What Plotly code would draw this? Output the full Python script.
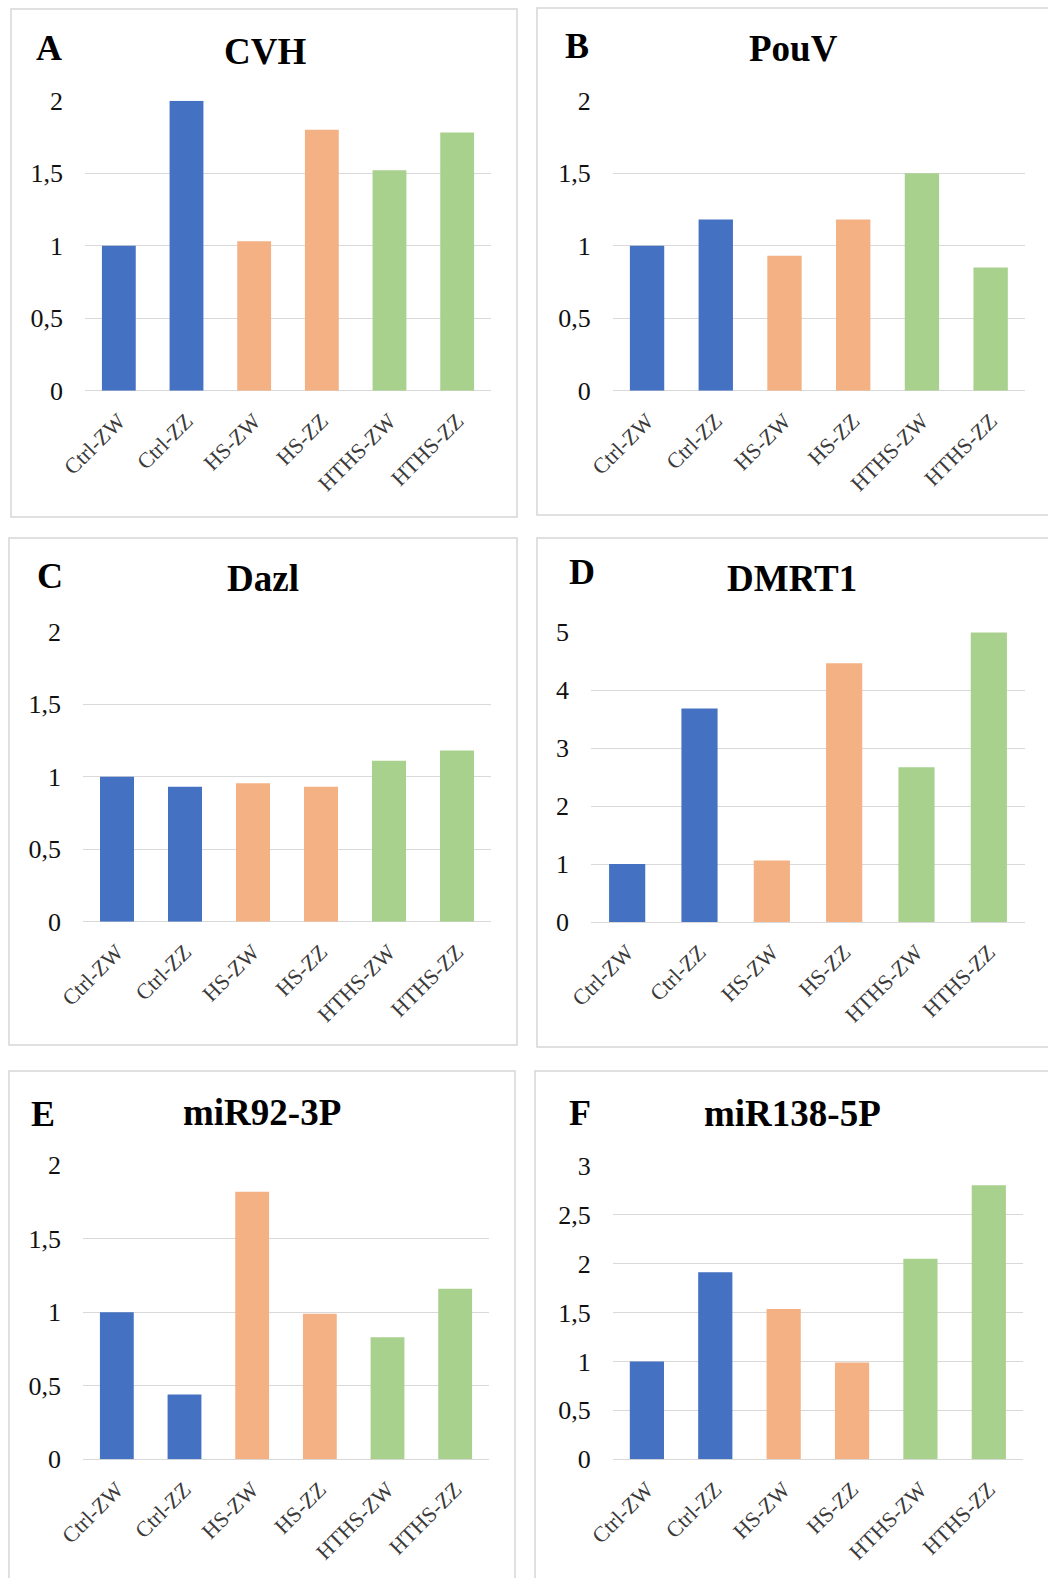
import plotly.graph_objects as go

# Relative expression per group (fold change vs Ctrl-ZW)
categories = ["Ctrl-ZW", "Ctrl-ZZ", "HS-ZW", "HS-ZZ", "HTHS-ZW", "HTHS-ZZ"]
cvh = [1.0, 2.0, 1.03, 1.80, 1.52, 1.78]
pouv = [1.0, 1.18, 0.93, 1.18, 1.50, 0.85]
dazl = [1.0, 0.93, 0.955, 0.93, 1.11, 1.18]
dmrt1 = [1.0, 3.68, 1.06, 4.46, 2.67, 4.99]
mir92_3p = [1.0, 0.44, 1.82, 0.99, 0.83, 1.16]
mir138_5p = [1.0, 1.91, 1.535, 0.99, 2.05, 2.80]

panel_titles = ["CVH", "PouV", "Dazl", "DMRT1", "miR92-3P", "miR138-5P"]
panel_letters = ["A", "B", "C", "D", "E", "F"]
y_max = [2, 2, 2, 5, 2, 3]
y_step = [0.5, 0.5, 0.5, 1, 0.5, 0.5]

series = [cvh, pouv, dazl, dmrt1, mir92_3p, mir138_5p]

W, H = 1048, 1578
BLUE, ORANGE, GREEN = "#4571C3", "#F4B183", "#A9D18E"
bar_colors = [BLUE, BLUE, ORANGE, ORANGE, GREEN, GREEN]
SERIF = "Liberation Serif, Times New Roman, serif"

# plot areas in pixels: (left, top, right, bottom)
plot_px = [
    (85, 100.7, 491, 390.7),
    (612.7, 100.7, 1025, 390.7),
    (83, 631.7, 491, 921.7),
    (591, 632, 1025, 922),
    (83, 1165.3, 489, 1459.3),
    (612.7, 1165.7, 1023, 1459.3),
]
# panel frames in pixels
frame_px = [
    (11, 9, 517, 517),
    (537, 8, 1052, 515),
    (9, 538, 517, 1045),
    (537, 538, 1052, 1047),
    (9, 1071, 515, 1582),
    (535, 1071, 1052, 1582),
]
# title and letter centres in pixels
title_px = [(265, 51), (793, 48), (263, 578), (792, 578), (262, 1112), (792, 1113)]
letter_px = [(49, 48), (577, 46), (50, 576), (582, 572), (43, 1114), (580, 1113)]


def px_x(x):
    return x / W


def px_y(y):
    return 1 - y / H


fig = go.Figure()
annotations = []
shapes = []

for i in range(6):
    n = "" if i == 0 else str(i + 1)
    fig.add_trace(go.Bar(
        x=categories,
        y=series[i],
        marker=dict(color=bar_colors, line=dict(width=0)),
        xaxis="x" + n,
        yaxis="y" + n,
        showlegend=False,
        hoverinfo="x+y",
    ))
    l, t, r, b = plot_px[i]
    fig.update_layout({
        "xaxis" + n: dict(
            domain=[px_x(l), px_x(r)],
            anchor="y" + n,
            type="category",
            tickangle=-45,
            showgrid=False,
            showline=False,
            ticks="",
            automargin=False,
            tickfont=dict(family=SERIF, size=22, color="#3a3a3a"),
            ticklabelstandoff=12,
            fixedrange=True,
        ),
        "yaxis" + n: dict(
            domain=[px_y(b), px_y(t)],
            anchor="x" + n,
            range=[0, y_max[i]],
            dtick=y_step[i],
            tick0=0,
            showgrid=True,
            gridcolor="#d9d9d9",
            gridwidth=1,
            zeroline=True,
            zerolinecolor="#d9d9d9",
            zerolinewidth=1,
            showline=False,
            ticks="",
            automargin=False,
            tickfont=dict(family=SERIF, size=26, color="#111111"),
            ticklabelstandoff=21,
            fixedrange=True,
        ),
    })
    fl, ft, fr, fb = frame_px[i]
    shapes.append(dict(
        type="rect", xref="paper", yref="paper",
        x0=px_x(fl), x1=px_x(fr), y0=px_y(fb), y1=px_y(ft),
        line=dict(color="#d6d6d6", width=1.5), fillcolor="rgba(0,0,0,0)",
        layer="below",
    ))
    tx, ty = title_px[i]
    annotations.append(dict(
        text="<b>" + panel_titles[i] + "</b>", xref="paper", yref="paper",
        x=px_x(tx), y=px_y(ty), xanchor="center", yanchor="middle",
        showarrow=False, font=dict(family=SERIF, size=37, color="#000000"),
    ))
    lx, ly = letter_px[i]
    annotations.append(dict(
        text="<b>" + panel_letters[i] + "</b>", xref="paper", yref="paper",
        x=px_x(lx), y=px_y(ly), xanchor="center", yanchor="middle",
        showarrow=False, font=dict(family=SERIF, size=36, color="#000000"),
    ))

fig.update_layout(
    width=W,
    height=H,
    margin=dict(l=0, r=0, t=0, b=0, autoexpand=False),
    paper_bgcolor="white",
    plot_bgcolor="white",
    bargap=0.5,
    separators=", ",
    shapes=shapes,
    annotations=annotations,
    showlegend=False,
)

fig.write_html("out.html")
